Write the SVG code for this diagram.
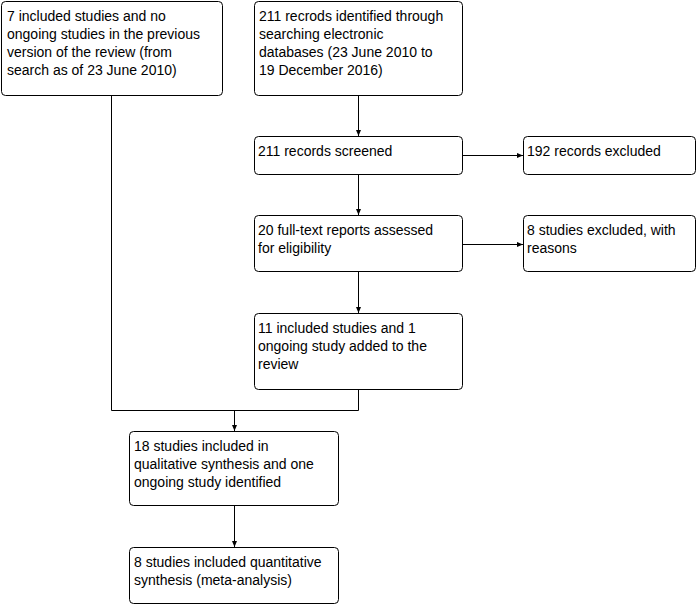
<svg xmlns="http://www.w3.org/2000/svg" width="700" height="605" viewBox="0 0 700 605">
<style>
.box{fill:#fff;stroke:#000;stroke-width:1}
.t{font-family:"Liberation Sans",Arial,sans-serif;font-size:14px;fill:#000}
.c{fill:none;stroke:#000;stroke-width:1}
</style>
<defs>
<marker id="ah" markerWidth="6" markerHeight="6" refX="6" refY="3" orient="auto" markerUnits="userSpaceOnUse">
<path d="M0,0.5 L6,3 L0,5.5 Z" fill="#000"/>
</marker>
</defs>
<rect width="700" height="605" fill="#fff"/>
<g id="connectors">
<path class="c" d="M358.5,95.5 V136" marker-end="url(#ah)"/>
<path class="c" d="M462.5,155.5 H523" marker-end="url(#ah)"/>
<path class="c" d="M358.5,174.5 V215" marker-end="url(#ah)"/>
<path class="c" d="M462.5,244.5 H523" marker-end="url(#ah)"/>
<path class="c" d="M358.5,271.5 V313" marker-end="url(#ah)"/>
<path class="c" d="M111.5,95.5 V410.5 H358.5 V389.5"/>
<path class="c" d="M234.5,410.5 V431" marker-end="url(#ah)"/>
<path class="c" d="M234.5,505.5 V547" marker-end="url(#ah)"/>
</g>
<g id="prev">
<rect class="box" x="1.5" y="1.5" width="221" height="94" rx="4"/>
<text class="t" x="7" y="21"><tspan x="7">7 included studies and no</tspan><tspan x="7" dy="18">ongoing studies in the previous</tspan><tspan x="7" dy="18">version of the review (from</tspan><tspan x="7" dy="18">search as of 23 June 2010)</tspan></text>
</g>
<g id="identified">
<rect class="box" x="254.5" y="1.5" width="208" height="94" rx="4"/>
<text class="t" x="259" y="21"><tspan x="259">211 recrods identified through</tspan><tspan x="259" dy="18">searching electronic</tspan><tspan x="259" dy="18">databases (23 June 2010 to</tspan><tspan x="259" dy="18">19 December 2016)</tspan></text>
</g>
<g id="screened">
<rect class="box" x="254.5" y="136.5" width="208" height="38" rx="4"/>
<text class="t" x="258" y="156">211 records screened</text>
</g>
<g id="excluded1">
<rect class="box" x="523.5" y="136.5" width="172" height="38" rx="4"/>
<text class="t" x="527" y="156">192 records excluded</text>
</g>
<g id="fulltext">
<rect class="box" x="254.5" y="215.5" width="208" height="56" rx="4"/>
<text class="t" x="258" y="235"><tspan x="258">20 full-text reports assessed</tspan><tspan x="258" dy="18">for eligibility</tspan></text>
</g>
<g id="excluded2">
<rect class="box" x="523.5" y="215.5" width="172" height="56" rx="4"/>
<text class="t" x="527" y="235"><tspan x="527">8 studies excluded, with</tspan><tspan x="527" dy="18">reasons</tspan></text>
</g>
<g id="added">
<rect class="box" x="254.5" y="313.5" width="208" height="76" rx="4"/>
<text class="t" x="258" y="333"><tspan x="258">11 included studies and 1</tspan><tspan x="258" dy="18">ongoing study added to the</tspan><tspan x="258" dy="18">review</tspan></text>
</g>
<g id="qualitative">
<rect class="box" x="129.5" y="431.5" width="209" height="74" rx="4"/>
<text class="t" x="134" y="451"><tspan x="134">18 studies included in</tspan><tspan x="134" dy="18">qualitative synthesis and one</tspan><tspan x="134" dy="18">ongoing study identified</tspan></text>
</g>
<g id="quantitative">
<rect class="box" x="129.5" y="547.5" width="209" height="56" rx="4"/>
<text class="t" x="134" y="567"><tspan x="134">8 studies included quantitative</tspan><tspan x="134" dy="18">synthesis (meta-analysis)</tspan></text>
</g>
</svg>
